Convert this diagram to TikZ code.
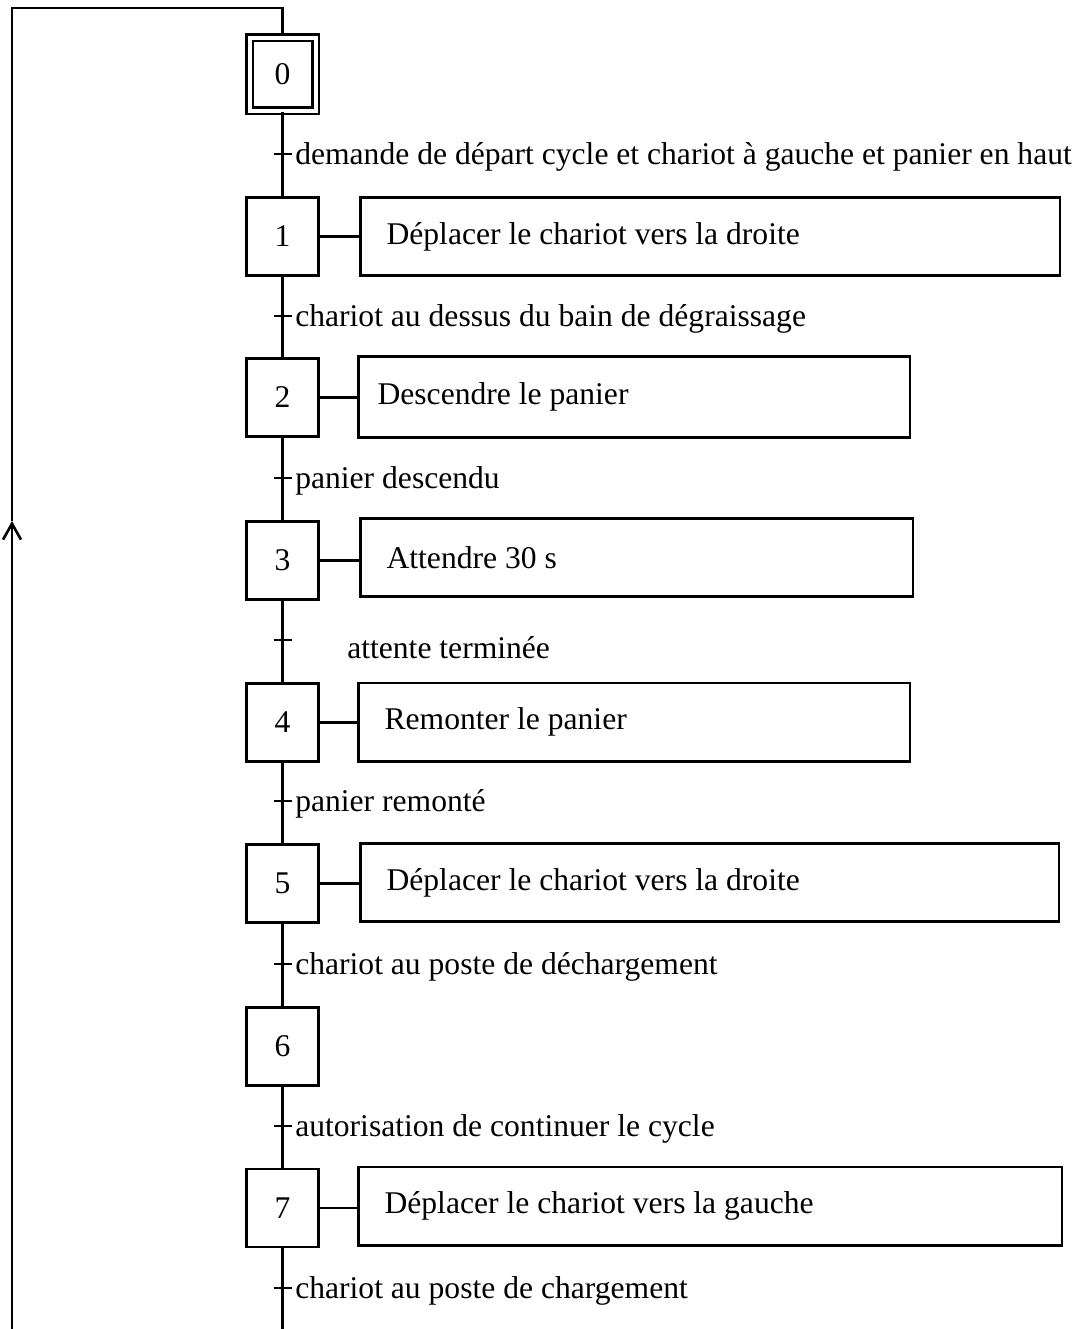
\documentclass[tikz,border=0pt]{standalone}
\usepackage{fontspec}
\setmainfont{Liberation Serif}
\usetikzlibrary{arrows.meta}

\begin{document}
\begin{tikzpicture}[x=0.5pt,y=-0.5pt,line width=1.3pt,
  font=\fontsize{15.8pt}{19pt}\selectfont,
  etape/.style={draw,minimum width=36pt,minimum height=39pt,inner sep=0pt},
  action/.style={draw,anchor=west,minimum height=39.2pt,inner xsep=13pt,text width=#1,align=left,
    execute at begin node={\spaceskip=0pt\xspaceskip=0pt}},
  recept/.style={anchor=base west,inner sep=0pt}]

\clip (0,0) rectangle (1085,1329);

\def\barre{++(-9,0) -- ++(18,0)}

% etapes
\node[etape,double,double distance=2pt,minimum width=33pt,minimum height=36.5pt] (s0) at (282.5,74) {0};
\node[etape] (s1) at (282.5,236.5) {1};
\node[etape] (s2) at (282.5,397.5) {2};
\node[etape] (s3) at (282.5,560.5) {3};
\node[etape] (s4) at (282.5,722.5) {4};
\node[etape] (s5) at (282.5,883.5) {5};
\node[etape] (s6) at (282.5,1046.5) {6};
\node[etape] (s7) at (282.5,1208) {7};

% actions
\node[action=323.7pt] (a1) at (359.3,236.5) {Déplacer le chariot vers la droite};
\node[action=256.7pt,inner xsep=9.5pt,minimum height=40.7pt] (a2) at (357.3,397) {Descendre le panier};
\node[action=250.2pt] (a3) at (359.3,557.5) {Attendre 30 s};
\node[action=249.7pt] (a4) at (357.3,722) {Remonter le panier};
\node[action=323.2pt] (a5) at (359.3,882.5) {Déplacer le chariot vers la droite};
\node[action=325.7pt] (a7) at (357.3,1206) {Déplacer le chariot vers la gauche};

\draw (s1.east) -- (s1.east -| a1.west);
\draw (s2.east) -- (s2.east -| a2.west);
\draw (s3.east) -- (s3.east -| a3.west);
\draw (s4.east) -- (s4.east -| a4.west);
\draw (s5.east) -- (s5.east -| a5.west);
\draw (s7.east) -- (s7.east -| a7.west);

% transitions
\coordinate (t0) at (282.5,154);
\coordinate (t1) at (282.5,316);
\coordinate (t2) at (282.5,478);
\coordinate (t3) at (282.5,640);
\coordinate (t4) at (282.5,801);
\coordinate (t5) at (282.5,964);
\coordinate (t6) at (282.5,1126);
\coordinate (t7) at (282.5,1288);

\draw (s0) -- (s1);
\draw (s1) -- (s2);
\draw (s2) -- (s3);
\draw (s3) -- (s4);
\draw (s4) -- (s5);
\draw (s5) -- (s6);
\draw (s6) -- (s7);

\draw (t0) \barre;
\draw (t1) \barre;
\draw (t2) \barre;
\draw (t3) \barre;
\draw (t4) \barre;
\draw (t5) \barre;
\draw (t6) \barre;
\draw (t7) \barre;

\node[recept] (r0) at (294,164) {demande de départ cycle et chariot à gauche et panier en haut};
\node[recept] (r1) at (294,326) {chariot au dessus du bain de dégraissage};
\node[recept] (r2) at (294,488) {panier descendu};
\node[recept] (r3) at (346,658) {attente terminée};
\node[recept] (r4) at (294,811) {panier remonté};
\node[recept] (r5) at (294,974) {chariot au poste de déchargement};
\node[recept] (r6) at (294,1136) {autorisation de continuer le cycle};
\node[recept] (r7) at (294,1298) {chariot au poste de chargement};

% retour
\coordinate (bas) at (282.5,1360);
\coordinate (fleche) at (12,521);
\coordinate (haut) at (12,8);
\draw[-{Straight Barb[length=8pt,width=9pt]}] (s7) -- (bas) -| (fleche);
\draw (fleche) -- (haut) -| (s0);

\end{tikzpicture}
\end{document}
